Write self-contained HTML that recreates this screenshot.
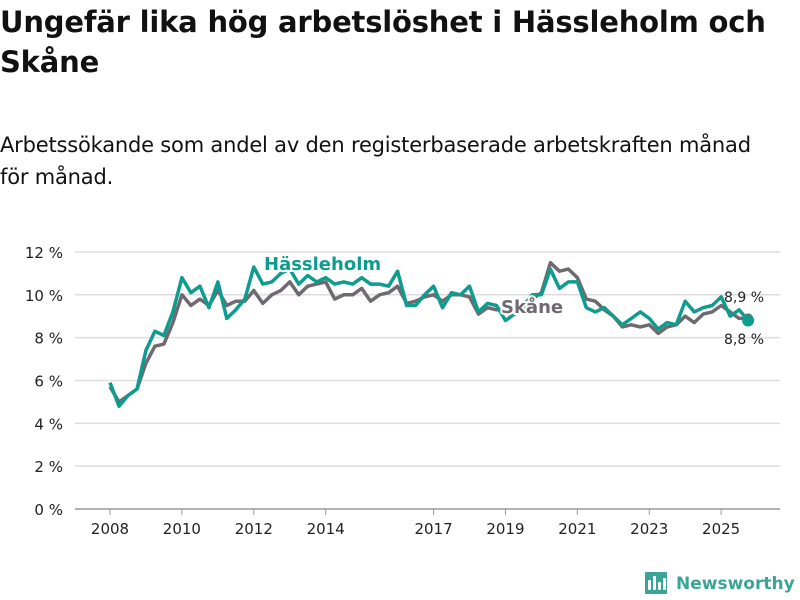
<!DOCTYPE html>
<html><head><meta charset="utf-8">
<style>
body{margin:0;width:800px;height:600px;background:#fff;font-family:"DejaVu Sans",sans-serif;color:#111;overflow:hidden;position:relative}
h1{position:absolute;left:0;top:2px;margin:0;font-size:29px;line-height:40px;font-weight:bold;width:800px;letter-spacing:-0.2px}
.sub{position:absolute;left:0;top:129px;margin:0;font-size:21px;line-height:32px;width:782px;letter-spacing:-0.2px}
svg{position:absolute;left:0;top:0}
</style></head><body>
<h1>Ungefär lika hög arbetslöshet i Hässleholm och Skåne</h1>
<p class="sub">Arbetssökande som andel av den registerbaserade arbetskraften månad för månad.</p>
<svg id="chart" width="800" height="600"></svg>
<script>
const dates=[];for(let y=2008;y<2026;y++)for(let q=0;q<4;q++)dates.push(y+q/4);
const hassleholm=[5.9,4.8,5.3,5.6,7.4,8.3,8.1,9.2,10.8,10.1,10.4,9.4,10.6,8.9,9.3,9.8,11.3,10.5,10.6,11.0,11.2,10.5,10.9,10.6,10.8,10.5,10.6,10.5,10.8,10.5,10.5,10.4,11.1,9.5,9.5,10.0,10.4,9.4,10.1,10.0,10.4,9.2,9.6,9.5,8.8,9.1,9.5,10.0,10.0,11.2,10.3,10.6,10.6,9.4,9.2,9.4,9.0,8.6,8.9,9.2,8.9,8.4,8.7,8.6,9.7,9.2,9.4,9.5,9.9,9.0,9.3,8.8];
const skane=[5.7,5.0,5.3,5.6,6.8,7.6,7.7,8.7,10.0,9.5,9.8,9.5,10.2,9.5,9.7,9.7,10.2,9.6,10.0,10.2,10.6,10.0,10.4,10.5,10.6,9.8,10.0,10.0,10.3,9.7,10.0,10.1,10.4,9.6,9.7,9.9,10.0,9.7,10.0,10.0,9.9,9.1,9.4,9.3,9.3,9.1,9.4,9.8,10.1,11.5,11.1,11.2,10.8,9.8,9.7,9.3,9.0,8.5,8.6,8.5,8.6,8.2,8.5,8.6,9.0,8.7,9.1,9.2,9.5,9.2,8.9,8.9];
const yTicks=[0,2,4,6,8,10,12];
const xTicks=[2008,2010,2012,2014,2017,2019,2021,2023,2025];
const NS="http://www.w3.org/2000/svg",svg=document.getElementById('chart');
const X=v=>110+(v-2008)*35.95, Y=v=>509-v*21.42;
function el(t,a,txt){const e=document.createElementNS(NS,t);for(const k in a)e.setAttribute(k,a[k]);if(txt!=null)e.textContent=txt;svg.appendChild(e);return e;}
yTicks.forEach(t=>{
 const g=el('line',{x1:75,x2:780,y1:Y(t),y2:Y(t),stroke:t===0?'#999':'#ddd','stroke-width':1.5});
 
 
 const l=el('text',{x:63,y:Y(t)+6,'text-anchor':'end','font-size':15,fill:'#222','font-family':'DejaVu Sans'},t+' %');
 
 
});
xTicks.forEach(t=>{
 const m=el('line',{x1:X(t),x2:X(t),y1:509,y2:515,stroke:'#999','stroke-width':1});
 
 
 const l=el('text',{x:X(t),y:534,'text-anchor':'middle','font-size':15,fill:'#222','font-family':'DejaVu Sans'},t);
 
 
});
function path(vals){return vals.map((v,i)=>(i?'L':'M')+X(dates[i]).toFixed(1)+','+Y(v).toFixed(1)).join('');}
const s=el('path',{d:path(skane),fill:'none',stroke:'#6e6a70','stroke-width':3.5,'stroke-linejoin':'round'});


const h=el('path',{d:path(hassleholm),fill:'none',stroke:'#0e9c8f','stroke-width':3.5,'stroke-linejoin':'round'});


const n=dates.length-1;
const d1=el('circle',{cx:X(dates[n]),cy:Y(skane[n]),r:5,fill:'#6e6a70'});


const d2=el('circle',{cx:X(dates[n]),cy:Y(hassleholm[n]),r:6,fill:'#0e9c8f'});


const v1=el('text',{x:724,y:302,'font-size':14,fill:'#222'},String(skane[n]).replace('.',',')+' %');


const v2=el('text',{x:724,y:344,'font-size':14,fill:'#222'},String(hassleholm[n]).replace('.',',')+' %');


const lh=el('text',{x:264,y:270,'font-size':18,'font-weight':'bold',fill:'#0e9c8f',stroke:'#fff','stroke-width':4,'paint-order':'stroke'},'Hässleholm');


const ls=el('text',{x:501,y:313,'font-size':18,'font-weight':'bold',fill:'#6e6a70',stroke:'#fff','stroke-width':4,'paint-order':'stroke'},'Skåne');


const lg=el('g',{});


[[645,572,22,22,'#3aa597'],[648,580,3,10,'#fff'],[653,576,3,14,'#fff'],[658,582,3,8,'#fff'],[663,578,3,12,'#fff']].forEach(b=>{const r=document.createElementNS(NS,'rect');r.setAttribute('x',b[0]);r.setAttribute('y',b[1]);r.setAttribute('width',b[2]);r.setAttribute('height',b[3]);r.setAttribute('fill',b[4]);r.setAttribute('rx',1);lg.appendChild(r);});
svg.appendChild(lg);
const lt=el('text',{x:676,y:589,'font-size':17,'font-weight':'bold',fill:'#3aa597'},'Newsworthy');


</script>
</body></html>
